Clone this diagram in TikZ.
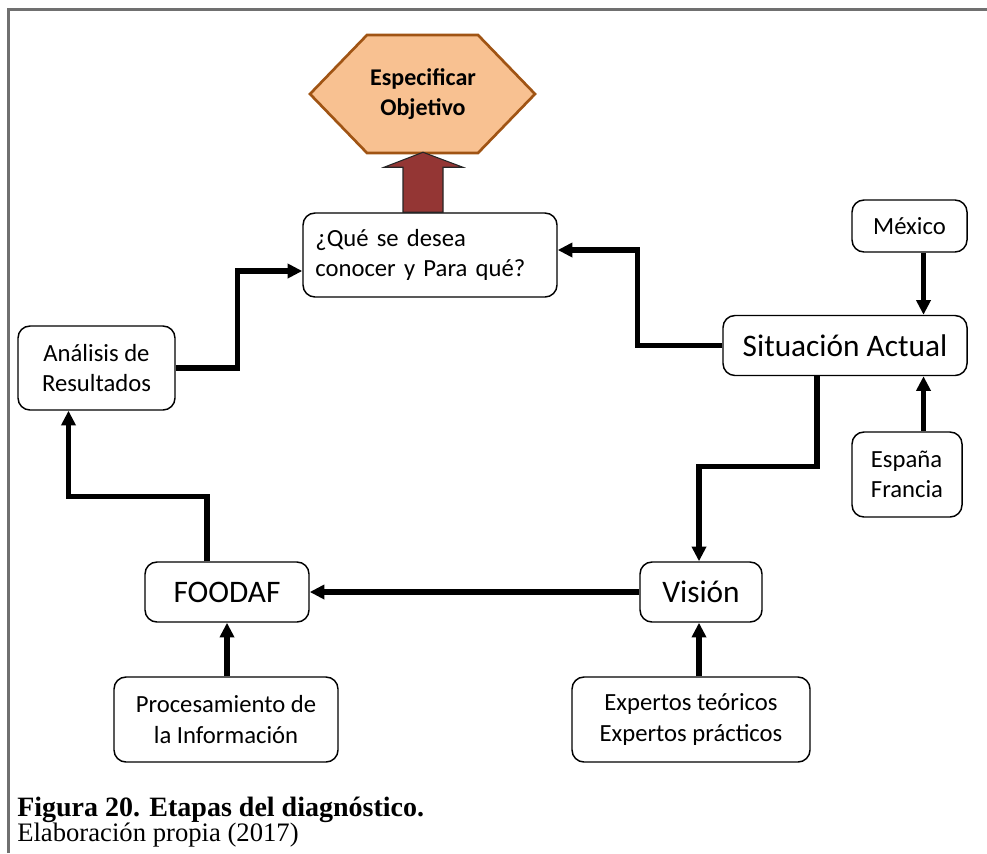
\documentclass[tikz,border=0pt]{standalone}
\usepackage{fontspec}
\setmainfont{Carlito}
\newfontfamily\capfont{Liberation Serif}
\usetikzlibrary{positioning, arrows.meta, calc}

\definecolor{hexfill}{RGB}{248,193,145}
\definecolor{hexline}{RGB}{160,84,20}
\definecolor{bigarrow}{RGB}{148,54,52}
\definecolor{framegray}{RGB}{112,112,112}

\tikzset{
  box/.style={draw, line width=1.1pt, rounded corners=9pt, align=center,
    font=\fontsize{18.5}{23}\selectfont},
  bigbox/.style={box, font=\fontsize{23.5}{28}\selectfont},
  conn/.style={line width=3.9pt, -{Triangle[length=11pt,width=10.5pt]}}
}

\begin{document}
\begin{tikzpicture}[x=0.75pt, y=-0.75pt]
  \useasboundingbox (0,0) rectangle (987,853);

  %frame
  \draw[framegray, line width=2pt] (8.5,853) -- (8.5,9.5) -- (987,9.5);

  %objective
  \draw[hexline, fill=hexfill, line width=2pt] (423,94) +(-113,0) -- +(-56,-59)
    -- +(55,-59) -- +(112,0) -- +(55,59) -- +(-56,59) -- cycle;
  \node[font=\bfseries\fontsize{18}{22.5}\selectfont, align=center] (obj) at (423,94)
    {Especificar\\Objetivo};

  %boxes
  \node[box, minimum width=190.5pt, minimum height=63pt, text width=172pt, align=left]
    (que) at (430,255) {¿Qué se desea\\conocer y Para qué?};
  \node[box, minimum width=117.75pt, minimum height=63pt] (ana) at (96.5,368)
    {Análisis de\\Resultados};
  \node[box, minimum width=86.25pt, minimum height=39pt] (mex) at (909.5,226) {México};
  \node[bigbox, minimum width=183pt, minimum height=45pt] (sit) at (845,345.5)
    {Situación Actual};
  \node[box, align=left, minimum width=82.5pt, minimum height=63.75pt] (esp) at (907,474.5)
    {España\\Francia};
  \node[bigbox, minimum width=123pt, minimum height=45pt] (foo) at (227,592) {FOODAF};
  \node[bigbox, minimum width=91.5pt, minimum height=45pt] (vis) at (701,592) {Visión};
  \node[box, minimum width=168pt, minimum height=63.75pt] (pro) at (226,719.5)
    {Procesamiento de\\la Información};
  \node[box, minimum width=178.5pt, minimum height=63.75pt] (exp) at (691,719.5)
    {Expertos teóricos\\Expertos prácticos};

  %block arrow
  \path (que.north) ++(-27,0) coordinate (abase);
  \draw[fill=bigarrow, draw=black!85, line width=0.8pt] (abase) -- ++(0,-45) -- ++(-19,0)
    -- ++(39,-15) -- ++(40,15) -- ++(-20,0) -- ++(0,45) -- cycle;

  %connectors
  \coordinate (mexout) at ([xshift=10.5pt]mex.south);
  \coordinate (visin) at ([xshift=-1.5pt]vis.south);
  \draw[conn] (sit.west) -- ++(-85,0) |- ([yshift=3.75pt]que.east);
  \draw[conn] (ana.east) -- ++(62,0) |- ([yshift=-12pt]que.west);
  \draw[conn] ([xshift=-15pt]foo.north) -- ++(0,-65) -| ([xshift=-21pt]ana.south);
  \draw[conn] (vis.west) -- (foo.east);
  \draw[conn] ([xshift=-21pt]sit.south) -- ++(0,90) -| (visin |- vis.north);
  \draw[conn] (mexout) -- (mexout |- sit.north);
  \draw[conn] (esp.north -| mexout) -- (sit.south -| mexout);
  \draw[conn] (foo.south |- pro.north) -- (foo.south);
  \draw[conn] (exp.north -| visin) -- (visin);

  %caption
  \node[anchor=base west, inner sep=0pt, font=\capfont\bfseries\fontsize{21}{24}\selectfont]
    (cap) at (17,816) {Figura 20. Etapas del diagnóstico.};
  \node[anchor=base west, inner sep=0pt, font=\capfont\fontsize{20}{24}\selectfont]
    (src) at (17,841) {Elaboración propia (2017)};
\end{tikzpicture}
\end{document}
